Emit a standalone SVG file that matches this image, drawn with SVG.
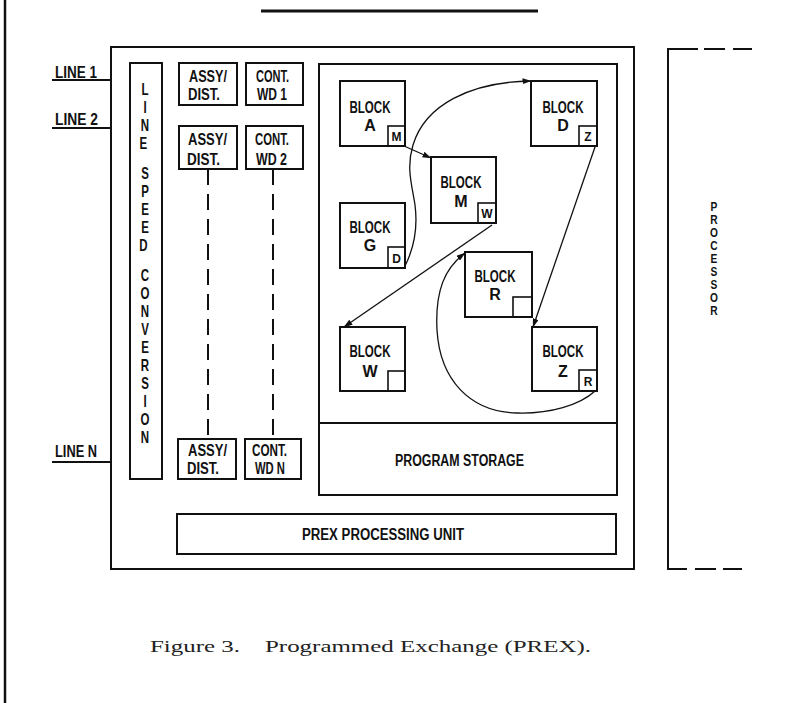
<svg xmlns="http://www.w3.org/2000/svg" width="786" height="703" viewBox="0 0 786 703">
<defs>
<style>
.box{fill:none;stroke:#111;stroke-width:2}
.thin{fill:none;stroke:#111;stroke-width:1.6}
.t{font-family:"Liberation Sans",Arial,sans-serif;font-weight:bold;font-size:16px;fill:#111}
.s{font-family:"Liberation Sans",Arial,sans-serif;font-weight:bold;font-size:12px;fill:#111;text-anchor:middle}
.v{font-family:"Liberation Sans",Arial,sans-serif;font-weight:bold;font-size:16px;fill:#111;text-anchor:middle}
.m{text-anchor:middle}
.cap{font-family:"Liberation Serif","Times New Roman",serif;font-size:17px;fill:#222}
.conn{fill:none;stroke:#111;stroke-width:1.3}
.dash{fill:none;stroke:#111;stroke-width:2;stroke-dasharray:16 9}
.ln{fill:none;stroke:#111;stroke-width:2}
</style>
<marker id="ah" viewBox="0 0 9 6" refX="8.5" refY="3" markerWidth="9" markerHeight="6" markerUnits="userSpaceOnUse" orient="auto">
<path d="M0,0 L9,3 L0,6 z" fill="#111"/>
</marker>
</defs>
<rect x="0" y="0" width="786" height="703" fill="#fff"/>
<line x1="5" y1="0" x2="5" y2="703" stroke="#111" stroke-width="2.5"/>
<line x1="261" y1="11" x2="538" y2="11" stroke="#111" stroke-width="3"/>

<g id="exchange">
<rect class="box" x="111" y="47" width="523" height="522"/>
</g>

<g id="lines">
<line class="ln" x1="52" y1="80" x2="111" y2="80"/>
<text class="t" x="55" y="78" textLength="42" lengthAdjust="spacingAndGlyphs">LINE 1</text>
<line class="ln" x1="52" y1="128" x2="111" y2="128"/>
<text class="t" x="55" y="125" textLength="43" lengthAdjust="spacingAndGlyphs">LINE 2</text>
<line class="ln" x1="52" y1="462" x2="111" y2="462"/>
<text class="t" x="55" y="457" textLength="42" lengthAdjust="spacingAndGlyphs">LINE N</text>
</g>

<g id="line-speed-conversion">
<rect class="box" x="130" y="63" width="32" height="416"/>
<text class="v" transform="translate(145 0) scale(0.72 1)">
<tspan x="0" y="95">L</tspan><tspan x="0" y="113">I</tspan><tspan x="0" y="131">N</tspan><tspan x="0" y="149">E</tspan>
<tspan x="0" y="179">S</tspan><tspan x="0" y="197">P</tspan><tspan x="0" y="215">E</tspan><tspan x="0" y="233">E</tspan><tspan x="0" y="251">D</tspan>
<tspan x="0" y="281">C</tspan><tspan x="0" y="299">O</tspan><tspan x="0" y="317">N</tspan><tspan x="0" y="335">V</tspan><tspan x="0" y="353">E</tspan><tspan x="0" y="371">R</tspan><tspan x="0" y="389">S</tspan><tspan x="0" y="407">I</tspan><tspan x="0" y="425">O</tspan><tspan x="0" y="443">N</tspan>
</text>
</g>

<g id="assy-1">
<rect class="box" x="179" y="63" width="58" height="42"/>
<text class="t" x="189" y="82" textLength="38" lengthAdjust="spacingAndGlyphs">ASSY/</text>
<text class="t" x="188" y="100" textLength="32" lengthAdjust="spacingAndGlyphs">DIST.</text>
</g>
<g id="cont-1">
<rect class="box" x="246" y="63" width="57" height="42"/>
<text class="t" x="256" y="82" textLength="33" lengthAdjust="spacingAndGlyphs">CONT.</text>
<text class="t" x="257" y="100" textLength="30" lengthAdjust="spacingAndGlyphs">WD 1</text>
</g>
<g id="assy-2">
<rect class="box" x="179" y="126" width="58" height="43"/>
<text class="t" x="188" y="145" textLength="39" lengthAdjust="spacingAndGlyphs">ASSY/</text>
<text class="t" x="187" y="165" textLength="33" lengthAdjust="spacingAndGlyphs">DIST.</text>
</g>
<g id="cont-2">
<rect class="box" x="246" y="126" width="57" height="43"/>
<text class="t" x="255" y="145" textLength="34" lengthAdjust="spacingAndGlyphs">CONT.</text>
<text class="t" x="256" y="165" textLength="31" lengthAdjust="spacingAndGlyphs">WD 2</text>
</g>
<g id="assy-n">
<rect class="box" x="178" y="439" width="58" height="40"/>
<text class="t" x="188" y="456" textLength="39" lengthAdjust="spacingAndGlyphs">ASSY/</text>
<text class="t" x="187" y="474" textLength="32" lengthAdjust="spacingAndGlyphs">DIST.</text>
</g>
<g id="cont-n">
<rect class="box" x="245" y="439" width="56" height="40"/>
<text class="t" x="252" y="456" textLength="35" lengthAdjust="spacingAndGlyphs">CONT.</text>
<text class="t" x="255" y="474" textLength="30" lengthAdjust="spacingAndGlyphs">WD N</text>
</g>

<g id="program-area">
<rect class="box" x="319" y="64" width="298" height="431"/>
<line class="ln" x1="319" y1="423" x2="617" y2="423"/>
</g>
<g id="program-storage">
<text class="t" x="395" y="466" textLength="129" lengthAdjust="spacingAndGlyphs">PROGRAM STORAGE</text>
</g>

<g id="block-a">
<rect class="box" x="340" y="81" width="65" height="65"/>
<rect class="thin" x="388" y="126" width="17" height="20"/>
<text class="t m" x="370" y="113" textLength="41" lengthAdjust="spacingAndGlyphs">BLOCK</text>
<text class="t m" x="370" y="131">A</text>
<text class="s" x="396.5" y="141">M</text>
</g>
<g id="block-d">
<rect class="box" x="531" y="81" width="66" height="65"/>
<rect class="thin" x="579" y="126" width="18" height="20"/>
<text class="t m" x="563" y="113" textLength="41" lengthAdjust="spacingAndGlyphs">BLOCK</text>
<text class="t m" x="563" y="131">D</text>
<text class="s" x="588" y="141">Z</text>
</g>
<g id="block-m">
<rect class="box" x="431" y="157" width="65" height="66"/>
<rect class="thin" x="478" y="203" width="18" height="20"/>
<text class="t m" x="461" y="188" textLength="41" lengthAdjust="spacingAndGlyphs">BLOCK</text>
<text class="t m" x="461" y="207">M</text>
<text class="s" x="487" y="218">W</text>
</g>
<g id="block-g">
<rect class="box" x="340" y="203" width="65" height="65"/>
<rect class="thin" x="388" y="247" width="17" height="21"/>
<text class="t m" x="370" y="233" textLength="41" lengthAdjust="spacingAndGlyphs">BLOCK</text>
<text class="t m" x="370" y="251">G</text>
<text class="s" x="396.5" y="263">D</text>
</g>
<g id="block-r">
<rect class="box" x="465" y="252" width="67" height="65"/>
<rect class="thin" x="513" y="297" width="19" height="20"/>
<text class="t m" x="495" y="282" textLength="41" lengthAdjust="spacingAndGlyphs">BLOCK</text>
<text class="t m" x="495" y="300">R</text>
</g>
<g id="block-w">
<rect class="box" x="340" y="327" width="65" height="64"/>
<rect class="thin" x="388" y="371" width="17" height="20"/>
<text class="t m" x="370" y="357" textLength="41" lengthAdjust="spacingAndGlyphs">BLOCK</text>
<text class="t m" x="370" y="377">W</text>
</g>
<g id="block-z">
<rect class="box" x="532" y="327" width="65" height="64"/>
<rect class="thin" x="579" y="370" width="18" height="21"/>
<text class="t m" x="563" y="357" textLength="41" lengthAdjust="spacingAndGlyphs">BLOCK</text>
<text class="t m" x="563" y="377">Z</text>
<text class="s" x="588" y="386">R</text>
</g>

<g id="prex-processing-unit">
<rect class="box" x="177" y="514" width="439" height="40"/>
<text class="t" x="302" y="540" textLength="162" lengthAdjust="spacingAndGlyphs">PREX PROCESSING UNIT</text>
</g>

<g id="processor">
<path class="ln" d="M698,49 L668,49 L668,569 L687,569" stroke-width="2.2"/>
<line class="ln" x1="704" y1="49" x2="725" y2="49" stroke-width="2.2"/>
<line class="ln" x1="733" y1="49" x2="752" y2="49" stroke-width="2.2"/>
<line class="ln" x1="695" y1="569" x2="716" y2="569" stroke-width="2.2"/>
<line class="ln" x1="723" y1="569" x2="742" y2="569" stroke-width="2.2"/>
<text class="v" font-size="12" style="font-size:12px" transform="translate(714 0) scale(0.85 1)">
<tspan x="0" y="211">P</tspan><tspan x="0" y="224">R</tspan><tspan x="0" y="237">O</tspan><tspan x="0" y="250">C</tspan><tspan x="0" y="263">E</tspan><tspan x="0" y="276">S</tspan><tspan x="0" y="289">S</tspan><tspan x="0" y="302">O</tspan><tspan x="0" y="315">R</tspan>
</text>
</g>

<g id="connectors">
<line class="dash" x1="208" y1="169" x2="208" y2="439"/>
<line class="dash" x1="273" y1="169" x2="273" y2="439"/>
<line class="conn" x1="404" y1="146" x2="431" y2="158" marker-end="url(#ah)"/>
<path class="conn" d="M405,266 C414,248 418,228 415,205 C412,185 406,168 413,145 C425,105 470,82 531,81" marker-end="url(#ah)"/>
<line class="conn" x1="595" y1="147" x2="533" y2="327" marker-end="url(#ah)"/>
<line class="conn" x1="492" y1="225" x2="344" y2="327" marker-end="url(#ah)"/>
<path class="conn" d="M595,391 C580,405 550,414 517,413 C470,412 440,380 437,330 C435,290 445,268 465,253" marker-end="url(#ah)"/>
</g>

<g id="caption">
<text class="cap" x="150" y="652" textLength="90" lengthAdjust="spacingAndGlyphs">Figure 3.</text>
<text class="cap" x="265" y="652" textLength="326" lengthAdjust="spacingAndGlyphs">Programmed Exchange (PREX).</text>
</g>
</svg>
